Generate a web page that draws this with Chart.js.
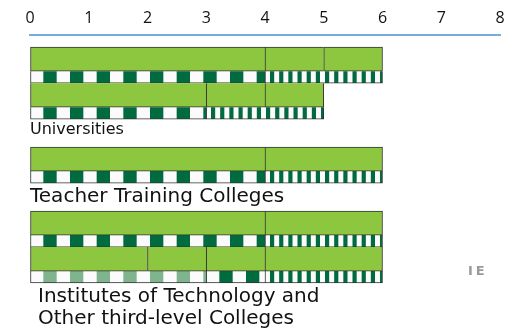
<!DOCTYPE html>
<html>
<head>
<meta charset="utf-8">
<script src="https://cdn.jsdelivr.net/npm/chart.js@4.4.1/dist/chart.umd.min.js"></script>
<style>
  body { margin: 0; background: #fff; }
  #wrap { width: 526px; height: 335px; }
</style>
</head>
<body>
<div id="wrap"><canvas id="chart"></canvas></div>
<script>
// years on the top axis
const yearTicks = [0, 1, 2, 3, 4, 5, 6, 7, 8];
const groupLabels = ['Universities', 'Teacher Training Colleges', ['Institutes of Technology and', 'Other third-level Colleges']];
// which group each programme row belongs to
const rowGroup = [0, 0, 1, 2, 2];
// year boundaries of the green blocks, per row
const blockBreaks = [[0, 4, 5, 6], [0, 3, 4, 5], [0, 4, 6], [0, 4, 6], [0, 2, 3, 4, 6]];
// the patterned strip under each row
const stripBreaks = [[0, 4, 6], [0, 3, 5], [0, 4, 6], [0, 4, 6], [0, 3, 4, 6]];
const stripKinds = [['check', 'stripe'], ['check', 'stripe'], ['check', 'stripe'], ['check', 'stripe'], ['pale', 'check', 'stripe']];
const countryCode = 'IE';

const GREEN = '#8dc63f';
const DARK = '#006b3f';
const PALE = '#80b48f';
const LINE = '#333333';
const groupGap = 28 / 36;
// label font size and baseline offset below the group (px)
const labelStyle = [[16, 15], [20, 18.5], [20, 18.5]];

function makeTile(w, fn) {
  const c = document.createElement('canvas');
  c.width = w; c.height = 12;
  const g = c.getContext('2d');
  g.fillStyle = '#fbfbfb';
  g.fillRect(0, 0, w, 12);
  fn(g);
  return c;
}
function checks(color) {
  return g => {
    g.fillStyle = color;
    const p = 80 / 3;
    for (let k = 0; k < 3; k++) g.fillRect(p * k + p / 2, 0, p / 2, 12);
  };
}
const tiles = {
  check: makeTile(80, checks(DARK)),
  pale: makeTile(80, checks(PALE)),
  stripe: makeTile(55, g => {
    g.fillStyle = DARK;
    const p = 55 / 6;
    for (let k = 0; k < 6; k++) g.fillRect(p * k + 5, 0, p - 5, 12);
  })
};

const rowPos = rowGroup.map((g, i) => i + g * groupGap);

const blockData = [];
const stripData = [];
blockBreaks.forEach((b, r) => {
  const first = r === 0 || rowGroup[r - 1] !== rowGroup[r];
  for (let k = 0; k < b.length - 1; k++) {
    blockData.push({ x: [b[k], b[k + 1]], y: rowPos[r] + 1 / 3, last: k === b.length - 2, first });
  }
});
stripBreaks.forEach((b, r) => {
  for (let k = 0; k < b.length - 1; k++) {
    stripData.push({ x: [b[k], b[k + 1]], y: rowPos[r] + 5 / 6, kind: stripKinds[r][k], last: k === b.length - 2 });
  }
});

const labelPlugin = {
  id: 'labels',
  afterDraw(chart) {
    const { ctx, chartArea, scales } = chart;
    ctx.save();
    ctx.fillStyle = '#111';
    ctx.textBaseline = 'alphabetic';
    groupLabels.forEach((lab, g) => {
      const rows = rowPos.filter((p, i) => rowGroup[i] === g);
      const bottom = scales.y.getPixelForValue(rows[rows.length - 1] + 1);
      const lines = Array.isArray(lab) ? lab : [lab];
      const [size, off] = labelStyle[g];
      ctx.font = size + 'px "DejaVu Sans"';
      const x = chartArea.left + (lines.length > 1 ? 8 : 0);
      lines.forEach((t, j) => ctx.fillText(t, x, bottom + off + j * 22.5));
    });
    ctx.fillStyle = '#9a9a9a';
    ctx.font = 'bold 13px "DejaVu Sans"';
    ctx.letterSpacing = '3px';
    ctx.textAlign = 'left';
    ctx.textBaseline = 'middle';
    ctx.fillText(countryCode, 468, 272);
    ctx.restore();
  }
};

new Chart(document.getElementById('chart'), {
  type: 'bar',
  data: {
    datasets: [
      {
        data: blockData,
        backgroundColor: GREEN,
        borderColor: LINE,
        borderWidth: c => c.raw ? { left: 1, top: c.raw.first ? 1 : 0, bottom: 1, right: c.raw.last ? 1 : 0 } : 1,
        borderSkipped: false,
        barThickness: 24,
        grouped: false
      },
      {
        data: stripData,
        backgroundColor: c => {
          if (!c.raw || !c.chart.scales.x) return '#fbfbfb';
          const x0 = c.chart.scales.x.getPixelForValue(c.raw.x[0]);
          const p = c.chart.ctx.createPattern(tiles[c.raw.kind], 'repeat');
          p.setTransform(new DOMMatrix().translate(Math.round(x0), 0));
          return p;
        },
        borderColor: LINE,
        borderWidth: c => c.raw ? { left: 1, top: 0, bottom: 1, right: c.raw.last ? 1 : 0 } : 1,
        borderSkipped: false,
        barThickness: 12,
        grouped: false
      }
    ]
  },
  options: {
    indexAxis: 'y',
    responsive: true,
    maintainAspectRatio: false,
    animation: false,
    events: [],
    layout: { padding: { top: 2, left: 30, right: 26, bottom: 0 } },
    plugins: { legend: { display: false }, tooltip: { enabled: false } },
    scales: {
      x: {
        type: 'linear',
        position: 'top',
        offset: false,
        min: yearTicks[0],
        max: yearTicks[yearTicks.length - 1],
        afterBuildTicks: s => { s.ticks = yearTicks.map(v => ({ value: v })); },
        ticks: { font: { family: 'Open Sans', size: 16 }, color: '#111', padding: 7 },
        grid: { drawOnChartArea: false, drawTicks: false },
        border: { color: '#78acdc', width: 2 }
      },
      y: {
        type: 'linear',
        reverse: true,
        offset: false,
        min: -1 / 3,
        max: 8,
        display: false
      }
    }
  },
  plugins: [labelPlugin]
});
</script>
</body>
</html>
